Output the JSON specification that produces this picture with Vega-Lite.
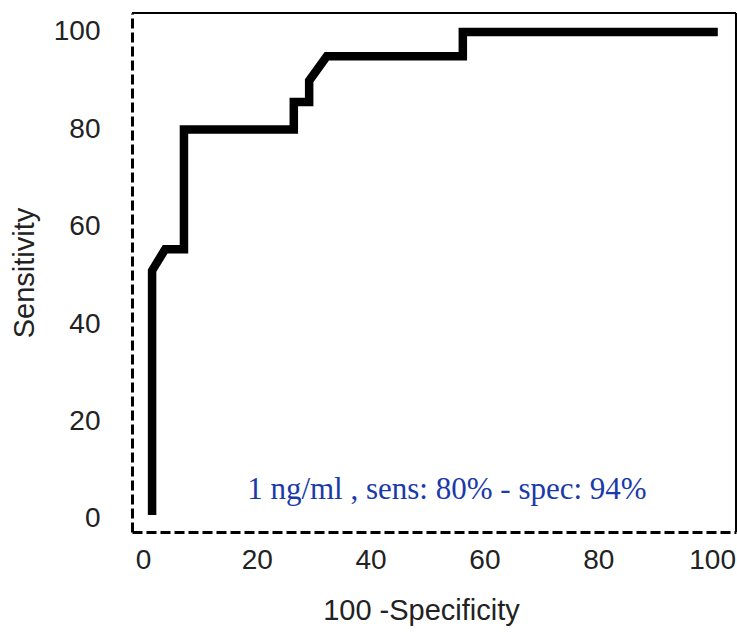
{
  "$schema": "https://vega.github.io/schema/vega-lite/v6.json",
  "width": 604,
  "height": 519,
  "autosize": {"type": "none"},
  "padding": {"left": 132, "top": 13, "right": 1, "bottom": 100},
  "background": "white",
  "config": {"view": {"stroke": null}, "font": "Liberation Sans"},
  "datasets": {
    "roc": [
      {"i": 0, "fpr": 1.6, "sens": 0.8},
      {"i": 1, "fpr": 1.6, "sens": 51},
      {"i": 2, "fpr": 3.9, "sens": 55.4},
      {"i": 3, "fpr": 7.2, "sens": 55.4},
      {"i": 4, "fpr": 7.2, "sens": 80},
      {"i": 5, "fpr": 26.5, "sens": 80},
      {"i": 6, "fpr": 26.5, "sens": 85.6},
      {"i": 7, "fpr": 29.2, "sens": 85.6},
      {"i": 8, "fpr": 29.2, "sens": 90},
      {"i": 9, "fpr": 32.3, "sens": 95},
      {"i": 10, "fpr": 56.2, "sens": 95},
      {"i": 11, "fpr": 56.2, "sens": 100},
      {"i": 12, "fpr": 101, "sens": 100}
    ],
    "note": [{"fpr": 53.4, "sens": 6, "label": "1 ng/ml , sens: 80% - spec: 94%"}]
  },
  "layer": [
    {
      "data": {"values": [{}]},
      "mark": {"type": "rule", "color": "black", "strokeWidth": 2},
      "encoding": {"y": {"datum": 103.9}}
    },
    {
      "data": {"values": [{}]},
      "mark": {"type": "rule", "color": "black", "strokeWidth": 2},
      "encoding": {"x": {"datum": 104.2}}
    },
    {
      "data": {"name": "roc"},
      "mark": {"type": "line", "color": "black", "strokeWidth": 8.5, "strokeJoin": "miter", "strokeCap": "butt"},
      "encoding": {
        "x": {
          "field": "fpr", "type": "quantitative",
          "scale": {"domain": [-1.93, 104.2], "nice": false, "zero": false},
          "axis": {
            "title": "100 -Specificity", "values": [0, 20, 40, 60, 80, 100],
            "grid": false, "ticks": false, "domainColor": "black", "domainWidth": 3,
            "domainDash": [10, 4], "labelFontSize": 28, "labelColor": "#222",
            "labelPadding": 14, "titleFontSize": 29, "titleFontWeight": "normal",
            "titleColor": "#222", "titlePadding": 22, "titleX": 289
          }
        },
        "y": {
          "field": "sens", "type": "quantitative",
          "scale": {"domain": [-2.67, 103.9], "nice": false, "zero": false},
          "axis": {
            "title": "Sensitivity", "values": [0, 20, 40, 60, 80, 100],
            "grid": false, "ticks": false, "domainColor": "black", "domainWidth": 3,
            "domainDash": [10, 4], "labelFontSize": 28, "labelColor": "#222",
            "labelPadding": 32, "titleFontSize": 29, "titleFontWeight": "normal",
            "titleColor": "#222", "titlePadding": 14
          }
        },
        "order": {"field": "i", "type": "quantitative"}
      }
    },
    {
      "data": {"name": "note"},
      "mark": {"type": "text", "font": "Liberation Serif", "fontSize": 31, "color": "#1a3aaa", "align": "center", "baseline": "middle"},
      "encoding": {
        "x": {"field": "fpr", "type": "quantitative"},
        "y": {"field": "sens", "type": "quantitative"},
        "text": {"field": "label"}
      }
    }
  ]
}
